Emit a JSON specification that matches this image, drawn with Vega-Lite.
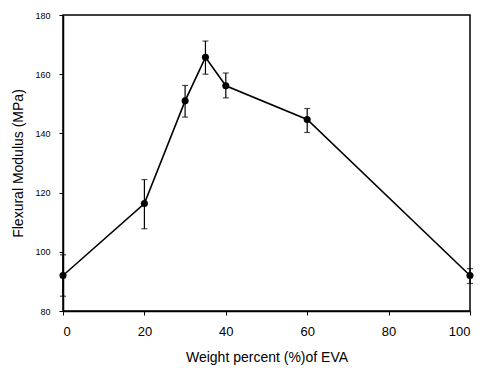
{
  "$schema": "https://vega.github.io/schema/vega-lite/v6.json",
  "width": 407,
  "height": 296,
  "autosize": {"type": "none"},
  "padding": {"left": 63, "top": 15, "right": 13, "bottom": 57},
  "background": "white",
  "config": {
    "view": {"stroke": "black", "strokeWidth": 1.5},
    "font": "Liberation Sans",
    "axis": {"grid": false, "domainColor": "black", "tickColor": "black", "labelColor": "black", "titleColor": "black", "labelFont": "Liberation Sans", "titleFont": "Liberation Sans", "titleFontWeight": "normal"}
  },
  "data": {
    "values": [
      {"x": 0, "y": 92, "lo": 85, "hi": 99},
      {"x": 20, "y": 116.3, "lo": 107.8, "hi": 124.4},
      {"x": 30, "y": 151, "lo": 145.5, "hi": 156.2},
      {"x": 35, "y": 165.7, "lo": 160, "hi": 171.2},
      {"x": 40, "y": 156.1, "lo": 152, "hi": 160.4},
      {"x": 60, "y": 144.7, "lo": 140.3, "hi": 148.4},
      {"x": 100, "y": 92, "lo": 89.3, "hi": 94.3}
    ]
  },
  "encoding": {
    "x": {
      "field": "x", "type": "quantitative",
      "scale": {"domain": [0, 100], "nice": false},
      "axis": {"values": [0, 20, 40, 60, 80, 100], "title": "Weight percent (%)of EVA", "labelFontSize": 13, "titleFontSize": 14, "labelPadding": 10, "titlePadding": 12, "tickSize": 4, "domainWidth": 1.5}
    }
  },
  "layer": [
    {
      "mark": {"type": "rule", "color": "black", "strokeWidth": 1.2},
      "encoding": {
        "y": {"field": "lo", "type": "quantitative", "scale": {"domain": [80, 180], "nice": false}},
        "y2": {"field": "hi"}
      }
    },
    {
      "mark": {"type": "tick", "color": "black", "size": 6, "thickness": 1.2, "orient": "horizontal"},
      "encoding": {"y": {"field": "lo", "type": "quantitative"}}
    },
    {
      "mark": {"type": "tick", "color": "black", "size": 6, "thickness": 1.2, "orient": "horizontal"},
      "encoding": {"y": {"field": "hi", "type": "quantitative"}}
    },
    {
      "mark": {"type": "line", "color": "black", "strokeWidth": 1.6},
      "encoding": {
        "y": {
          "field": "y", "type": "quantitative",
          "scale": {"domain": [80, 180], "nice": false},
          "axis": {"values": [80, 100, 120, 140, 160, 180], "title": "Flexural Modulus (MPa)", "labelFontSize": 9, "titleFontSize": 14, "labelPadding": 9, "titlePadding": 9, "tickSize": 4, "domainWidth": 1.5}
        }
      }
    },
    {
      "mark": {"type": "point", "filled": true, "color": "black", "size": 50, "opacity": 1},
      "encoding": {"y": {"field": "y", "type": "quantitative"}}
    }
  ]
}
